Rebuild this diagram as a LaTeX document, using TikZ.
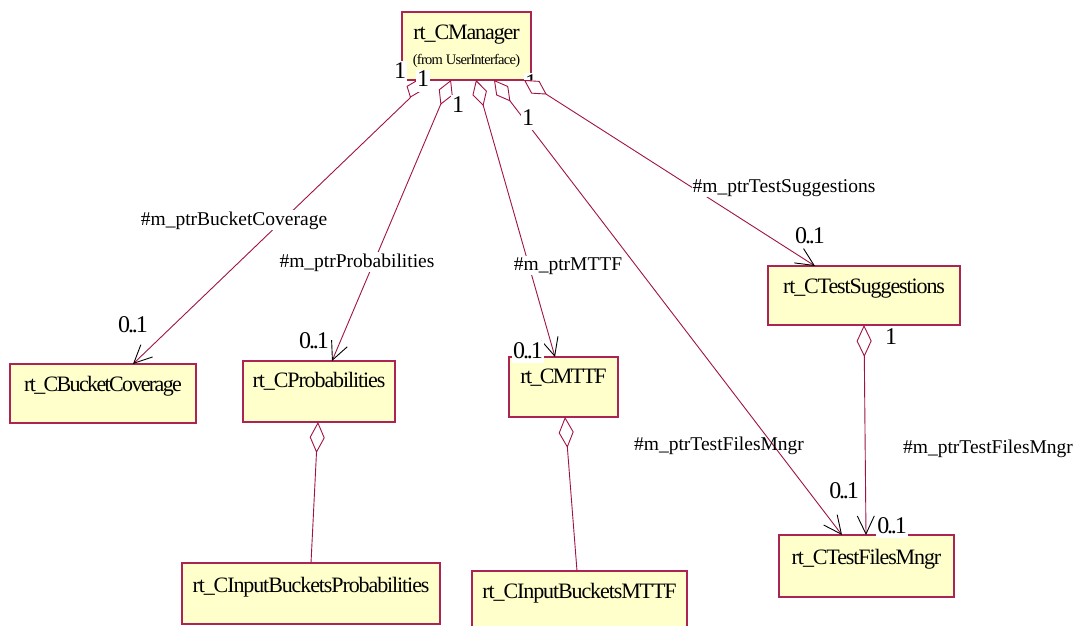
\documentclass[tikz,border=0pt]{standalone}
\usepackage{fontspec}
\setmainfont{Liberation Serif}
\newfontfamily\tightserif{Liberation Serif}[LetterSpace=-5]
\newfontfamily\tighterserif{Liberation Serif}[LetterSpace=-7.5]
\newfontfamily\multserif{Liberation Serif}[LetterSpace=-9]
\usetikzlibrary{arrows.meta}
\definecolor{linec}{RGB}{160,18,72}
\definecolor{boxc}{RGB}{172,36,84}
\definecolor{boxfill}{RGB}{255,255,204}

\begin{document}
\begin{tikzpicture}[x=1pt,y=-1pt,
  classbox/.style={draw=boxc, fill=boxfill, line width=1.2pt, anchor=north west,
    inner xsep=0pt, inner ysep=0pt, outer sep=0pt,
    font=\tightserif\fontsize{22}{26}\selectfont},
  role/.style={font=\fontsize{19.5}{23}\selectfont, inner sep=1pt, anchor=base},
  rolebg/.style={role, fill=white},
  mult/.style={font=\multserif\fontsize{24}{28}\selectfont, fill=white,
    inner xsep=1pt, inner ysep=0pt, text height=17pt, text depth=5pt, anchor=base},
  assoc/.style={draw=linec, line width=0.9pt,
    arrows={Diamond[open,length=#1,width=15pt]-Straight Barb[length=18pt,width=17pt,color=black]}},
  assoc/.default=27pt,
  aggr/.style={draw=linec, line width=0.9pt,
    arrows={Diamond[open,length=31pt,width=15pt]-}},
]
\useasboundingbox (0,0) rectangle (1079,626);

% classes
\node[classbox, minimum width=129pt, text height=28pt, text depth=40pt] (mgr) at (402,12) {rt\_CManager};
\node[anchor=base, inner sep=0pt, font=\tightserif\fontsize{14.5}{17}\selectfont] (mgrpkg) at (466.5,65) {(from UserInterface)};
\node[classbox, minimum width=186pt, text height=27pt, text depth=32pt,
      font=\tighterserif\fontsize{22}{26}\selectfont] (bc) at (10,364) {rt\_CBucketCoverage};
\node[classbox, minimum width=152pt, text height=26pt, text depth=35pt] (prob) at (243,361) {rt\_CProbabilities};
\node[classbox, minimum width=109pt, text height=26pt, text depth=34pt,
      font=\tighterserif\fontsize{22}{26}\selectfont] (mttf) at (509,357) {rt\_CMTTF};
\node[classbox, minimum width=192pt, text height=27pt, text depth=32pt] (ts) at (768,266) {rt\_CTestSuggestions};
\node[classbox, minimum width=175pt, text height=29pt, text depth=33pt] (tfm) at (779,535) {rt\_CTestFilesMngr};
\node[classbox, minimum width=258pt, text height=29pt, text depth=32pt] (ibp) at (182,563) {rt\_CInputBucketsProbabilities};
\node[classbox, minimum width=215pt, text height=27pt, text depth=34pt] (ibm) at (472,571) {rt\_CInputBucketsMTTF};

% associations from the manager
\coordinate (d1) at (410,98);
\draw[assoc=19pt] ([xshift=15pt]mgr.south west) -- (d1) -- ([xshift=123pt]bc.north west);
\draw[assoc] ([xshift=49pt]mgr.south west) -- ([xshift=89pt]prob.north west);
\draw[assoc] ([xshift=74pt]mgr.south west) -- ([xshift=46pt]mttf.north west);
\draw[assoc] ([xshift=92pt]mgr.south west) -- ([xshift=63pt]tfm.north west);
\draw[assoc] ([xshift=122pt]mgr.south west) -- ([xshift=47pt]ts.north west);
\draw[assoc=32pt] ([xshift=96pt]ts.south west) -- ([xshift=87pt]tfm.north west);

% aggregations
\draw[aggr] ([xshift=75pt]prob.south west) -- ([xshift=129pt]ibp.north west);
\draw[aggr] ([xshift=56pt]mttf.south west) -- ([xshift=105pt]ibm.north west);

% role names
\node[rolebg] (r1) at (234,225) {\#m\_ptrBucketCoverage};
\node[rolebg] (r2) at (357,267) {\#m\_ptrProbabilities};
\node[rolebg] (r3) at (568,270) {\#m\_ptrMTTF};
\node[role]   (r4) at (719,450) {\#m\_ptrTestFilesMngr};
\node[rolebg] (r5) at (784,192) {\#m\_ptrTestSuggestions};
\node[rolebg] (r6) at (988,453) {\#m\_ptrTestFilesMngr};

% multiplicities
\node[mult] (m1) at (133,332) {0..1};
\node[mult] (m2) at (314,348) {0..1};
\node[mult] (m3) at (528,358) {0..1};
\node[mult] (m4) at (844,498) {0..1};
\node[mult] (m5) at (810,243) {0..1};
\node[mult] (m6) at (892,533) {0..1};
\node[mult] (m7) at (891,344) {1};
\node[mult] (s1) at (400,78) {1};
\node[mult] (s2) at (423,87) {1};
\node[mult] (s3) at (458,112) {1};
\node[mult] (s4) at (528,125) {1};
\begin{scope}
  \clip (515,55) rectangle (545,80);
  \node[mult] (s5) at (531,90) {1};
\end{scope}
\end{tikzpicture}
\end{document}
